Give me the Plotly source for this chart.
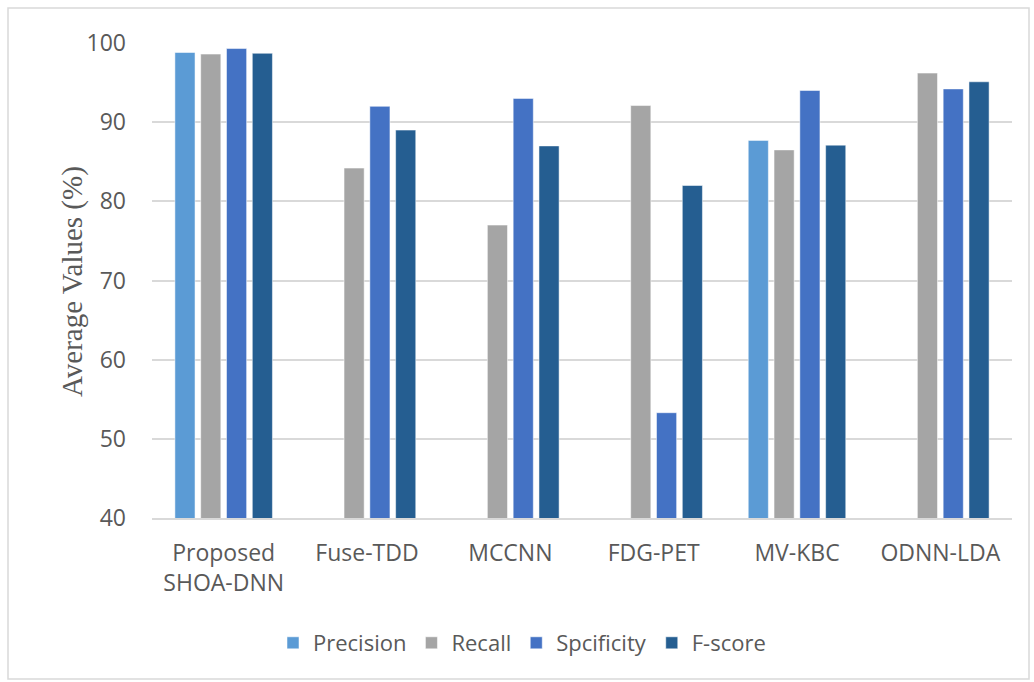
import plotly.graph_objects as go

# Methods compared and their average scores (%)
methods = ["Proposed<br>SHOA-DNN", "Fuse-TDD", "MCCNN", "FDG-PET", "MV-KBC", "ODNN-LDA"]
precision = [98.8, None, None, None, 87.7, None]
recall = [98.6, 84.2, 77.0, 92.1, 86.5, 96.2]
specificity = [99.3, 92.0, 93.0, 53.3, 94.0, 94.2]
f_score = [98.7, 89.0, 87.0, 82.0, 87.1, 95.1]

series = [
    ("Precision", precision, "#5B9BD5"),
    ("Recall", recall, "#A5A5A5"),
    ("Spcificity", specificity, "#4472C4"),
    ("F-score", f_score, "#255E91"),
]

fig = go.Figure()
for name, vals, color in series:
    fig.add_trace(go.Bar(
        x=methods, y=vals, name=name,
        marker=dict(color=color, line=dict(color="rgba(255,255,255,0.5)", width=1)),
    ))

L, R, T, B = 152, 1012, 43, 518
W, H = 1034, 682

def px_x(p):
    return (p - L) / (R - L)

def px_y(p):
    return (B - p) / (B - T)

tick_font = dict(family="Open Sans, DejaVu Sans, sans-serif", size=23, color="#595959")

fig.update_layout(
    width=W, height=H,
    margin=dict(l=L, r=W - R, t=T, b=H - B, pad=0),
    paper_bgcolor="white", plot_bgcolor="white",
    barmode="group", bargap=0.28, bargroupgap=0.22,
    showlegend=True,
    legend=dict(
        orientation="h", x=px_x(522), xanchor="center",
        y=px_y(643), yanchor="middle",
        font=dict(family="Open Sans, DejaVu Sans, sans-serif", size=22, color="#595959"),
        itemwidth=30, traceorder="normal",
    ),
    xaxis=dict(
        showgrid=False, showline=True, linecolor="#D9D9D9", linewidth=2,
        ticks="", tickfont=tick_font, ticklabelstandoff=13,
    ),
    yaxis=dict(
        range=[40, 100], dtick=10, tick0=40,
        showgrid=True, gridcolor="#D9D9D9", gridwidth=1.5,
        showline=False, zeroline=False,
        ticks="", tickfont=tick_font, ticklabelstandoff=25,
    ),
    annotations=[dict(
        text="Average Values (%)", textangle=-90, showarrow=False,
        xref="paper", yref="paper", x=px_x(72), y=px_y(282),
        xanchor="center", yanchor="middle",
        font=dict(family="Liberation Serif, Times New Roman, serif", size=29, color="#595959"),
    )],
    shapes=[dict(
        type="rect", xref="paper", yref="paper",
        x0=px_x(8), x1=px_x(1029), y0=px_y(679), y1=px_y(8),
        line=dict(color="#D9D9D9", width=1.5), fillcolor="rgba(0,0,0,0)", layer="below",
    )],
)

fig.write_html("out.html")
